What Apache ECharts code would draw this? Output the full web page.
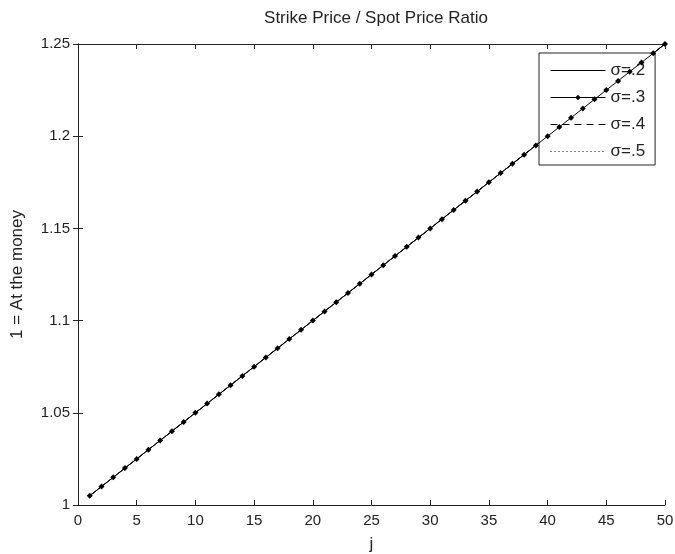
<!DOCTYPE html>
<html>
<head>
<meta charset="utf-8">
<script src="https://cdn.jsdelivr.net/npm/echarts@6/dist/echarts.min.js"></script>
<style>
  html, body { margin: 0; padding: 0; background: #fff; }
  #output { width: 675px; height: 554px; }
</style>
</head>
<body>
<div id="output"></div>
<script>
const chart = echarts.init(document.getElementById('output'));

// strike / spot ratio per step j (all four sigma curves coincide)
const jSteps = [1, 2, 3, 4, 5, 6, 7, 8, 9, 10, 11, 12, 13, 14, 15, 16, 17, 18, 19, 20,
  21, 22, 23, 24, 25, 26, 27, 28, 29, 30, 31, 32, 33, 34, 35, 36, 37, 38, 39, 40,
  41, 42, 43, 44, 45, 46, 47, 48, 49, 50]
const ratio = [1.005, 1.010, 1.015, 1.020, 1.025, 1.030, 1.035, 1.040, 1.045, 1.050,
  1.055, 1.060, 1.065, 1.070, 1.075, 1.080, 1.085, 1.090, 1.095, 1.100,
  1.105, 1.110, 1.115, 1.120, 1.125, 1.130, 1.135, 1.140, 1.145, 1.150,
  1.155, 1.160, 1.165, 1.170, 1.175, 1.180, 1.185, 1.190, 1.195, 1.200,
  1.205, 1.210, 1.215, 1.220, 1.225, 1.230, 1.235, 1.240, 1.245, 1.250]
const sigma2 = ratio
const sigma3 = ratio
const sigma4 = ratio
const sigma5 = ratio

const seriesNames = ['σ=.2', 'σ=.3', 'σ=.4', 'σ=.5']
const xTicks = { min: 0, max: 50, interval: 5 }
const yTicks = { min: 1, max: 1.25, interval: 0.05 }

const font = 'Liberation Sans, Arial, sans-serif'
const ink = '#222'

function pairs (ys) {
  return jSteps.map((j, i) => [j, ys[i]])
}

function axisBase (show) {
  return {
    axisLine: { show: true, lineStyle: { color: ink, width: 1 } },
    axisTick: { show: true, inside: true, length: 5, lineStyle: { color: ink } },
    axisLabel: { show: show, color: ink, fontFamily: font, fontSize: 15 },
    splitLine: { show: false }
  }
}

// line-only legend entries hide the default circle glyph
const legendData = seriesNames.map((name, i) => (
  i === 1 ? { name } : { name, itemStyle: { opacity: 0 } }
))

const option = {
  backgroundColor: '#fff',
  animation: false,
  title: {
    text: 'Strike Price / Spot Price Ratio',
    left: 371,
    top: 5,
    textAlign: 'center',
    textStyle: { color: ink, fontFamily: font, fontSize: 17, fontWeight: 'normal' }
  },
  grid: { left: 78, right: 10, top: 44, bottom: 49, outerBoundsMode: 'none' },
  legend: {
    orient: 'vertical',
    left: 539,
    top: 53,
    padding: [9, 10, 5, 11],
    itemGap: 10,
    itemWidth: 55,
    itemHeight: 7,
    backgroundColor: '#fff',
    borderColor: ink,
    borderWidth: 1,
    borderRadius: 0,
    lineStyle: { width: 1 },
    textStyle: { color: ink, fontFamily: font, fontSize: 17 },
    data: legendData
  },
  xAxis: [
    Object.assign(axisBase(true), {
      type: 'value', ...xTicks,
      name: 'j', nameLocation: 'middle', nameGap: 31,
      nameTextStyle: { color: ink, fontFamily: font, fontSize: 17 },
      axisLabel: { color: ink, fontFamily: font, fontSize: 15, margin: 8 }
    }),
    Object.assign(axisBase(false), { type: 'value', position: 'top', ...xTicks })
  ],
  yAxis: [
    Object.assign(axisBase(true), {
      type: 'value', ...yTicks,
      name: '1 = At the money', nameLocation: 'middle', nameGap: 52,
      nameTextStyle: { color: ink, fontFamily: font, fontSize: 17 },
      axisLabel: { color: ink, fontFamily: font, fontSize: 15, margin: 8 }
    }),
    Object.assign(axisBase(false), { type: 'value', position: 'right', ...yTicks })
  ],
  series: [
    {
      name: seriesNames[0], type: 'line', data: pairs(sigma2),
      showSymbol: false, symbol: 'none',
      lineStyle: { color: '#000', width: 1, type: 'solid' },
      itemStyle: { color: '#000' }
    },
    {
      name: seriesNames[1], type: 'line', data: pairs(sigma3),
      symbol: 'diamond', symbolSize: 6, showAllSymbol: true, z: 5,
      lineStyle: { color: '#000', width: 1, type: 'solid' },
      itemStyle: { color: '#000' }
    },
    {
      name: seriesNames[2], type: 'line', data: pairs(sigma4),
      showSymbol: false, symbol: 'none',
      lineStyle: { color: '#000', width: 1, type: [7, 5] },
      itemStyle: { color: '#000' }
    },
    {
      name: seriesNames[3], type: 'line', data: pairs(sigma5),
      showSymbol: false, symbol: 'none',
      lineStyle: { color: '#000', width: 1, type: [1, 3] },
      itemStyle: { color: '#000' }
    }
  ]
}

chart.setOption(option)
</script>
</body>
</html>
